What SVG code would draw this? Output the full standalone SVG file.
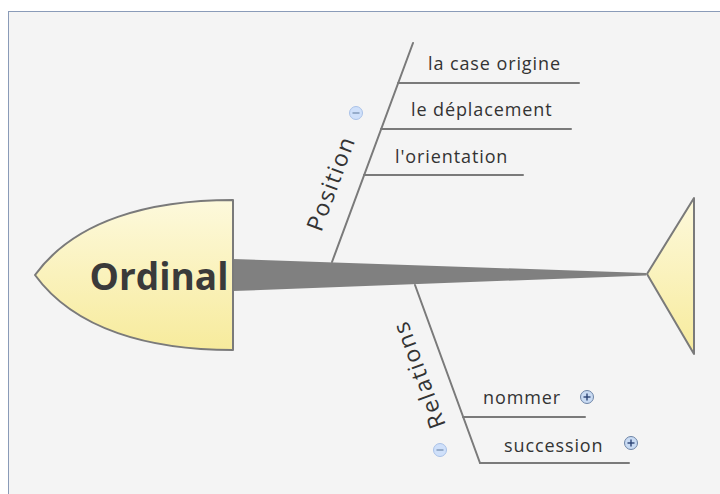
<svg xmlns="http://www.w3.org/2000/svg" width="720" height="494" viewBox="0 0 720 494">
<defs>
<linearGradient id="yel" x1="0" y1="0" x2="0" y2="1">
<stop offset="0" stop-color="#fdf9dc"/>
<stop offset="1" stop-color="#f7eb9c"/>
</linearGradient>
<style>
.bone{stroke:#7a7a7a;stroke-width:2;fill:none;stroke-linecap:round}
.lbl{font-family:"Open Sans","DejaVu Sans",sans-serif;font-size:18px;letter-spacing:0.9px;fill:#333}
.cat{font-family:"Open Sans","DejaVu Sans",sans-serif;font-size:23px;letter-spacing:1.6px;fill:#333}
.shape{fill:url(#yel);stroke:#7a7a7a;stroke-width:2;stroke-linejoin:round}
.minus circle{fill:#cfe0fa;stroke:#aac2e8;stroke-width:1}
.minus line{stroke:#7890b0;stroke-width:1.3}
.plus circle{fill:#c9dbf3;stroke:#6d84a6;stroke-width:1}
.plus line{stroke:#2b4474;stroke-width:1.4}
</style>
</defs>
<rect x="0" y="0" width="720" height="494" fill="#ffffff"/>
<rect x="8.5" y="11.5" width="720" height="490" fill="#f4f4f4" stroke="#8a9bb8" stroke-width="1"/>

<g id="connectors">
<polygon points="233,259 646,273 646,275.5 233,291" fill="#808080"/>
<line class="bone" x1="332" y1="262" x2="413" y2="43"/>
<line class="bone" x1="398" y1="83" x2="579" y2="83"/>
<line class="bone" x1="381" y1="129" x2="571" y2="129"/>
<line class="bone" x1="364" y1="175" x2="523" y2="175"/>
<line class="bone" x1="415" y1="285" x2="480" y2="463"/>
<line class="bone" x1="463" y1="417" x2="585" y2="417"/>
<line class="bone" x1="480" y1="463" x2="629" y2="463"/>
</g>

<g id="head">
<path class="shape" d="M233,200 L233,350 C150,350 75,330 35,275 C75,220 150,200 233,200 Z"/>
<text x="159" y="290" text-anchor="middle" font-family="'Open Sans','DejaVu Sans',sans-serif" font-size="37" font-weight="bold" fill="#3a3a3a">Ordinal</text>
</g>

<g id="tail">
<path class="shape" d="M647,274 L694,198 L694,354 Z"/>
</g>

<g id="position">
<text class="cat" transform="translate(330,183) rotate(-69.7)" text-anchor="middle" dominant-baseline="central">Position</text>
<g class="minus"><circle cx="356" cy="113" r="6.5"/><line x1="352.5" y1="113" x2="359.5" y2="113"/></g>
</g>
<g id="case-origine"><text class="lbl" x="428" y="70">la case origine</text></g>
<g id="deplacement"><text class="lbl" x="411" y="116">le déplacement</text></g>
<g id="orientation"><text class="lbl" x="395" y="163">l'orientation</text></g>

<g id="relations">
<text class="cat" transform="translate(418,375) rotate(-110.2)" text-anchor="middle" dominant-baseline="central">Relations</text>
<g class="minus"><circle cx="440" cy="450" r="6.5"/><line x1="436.5" y1="450" x2="443.5" y2="450"/></g>
</g>
<g id="nommer">
<text class="lbl" x="483" y="404">nommer</text>
<g class="plus"><circle cx="587" cy="397" r="6.5"/><line x1="583.5" y1="397" x2="590.5" y2="397"/><line x1="587" y1="393.5" x2="587" y2="400.5"/></g>
</g>
<g id="succession">
<text class="lbl" x="504" y="452">succession</text>
<g class="plus"><circle cx="631" cy="443" r="6.5"/><line x1="627.5" y1="443" x2="634.5" y2="443"/><line x1="631" y1="439.5" x2="631" y2="446.5"/></g>
</g>
</svg>
